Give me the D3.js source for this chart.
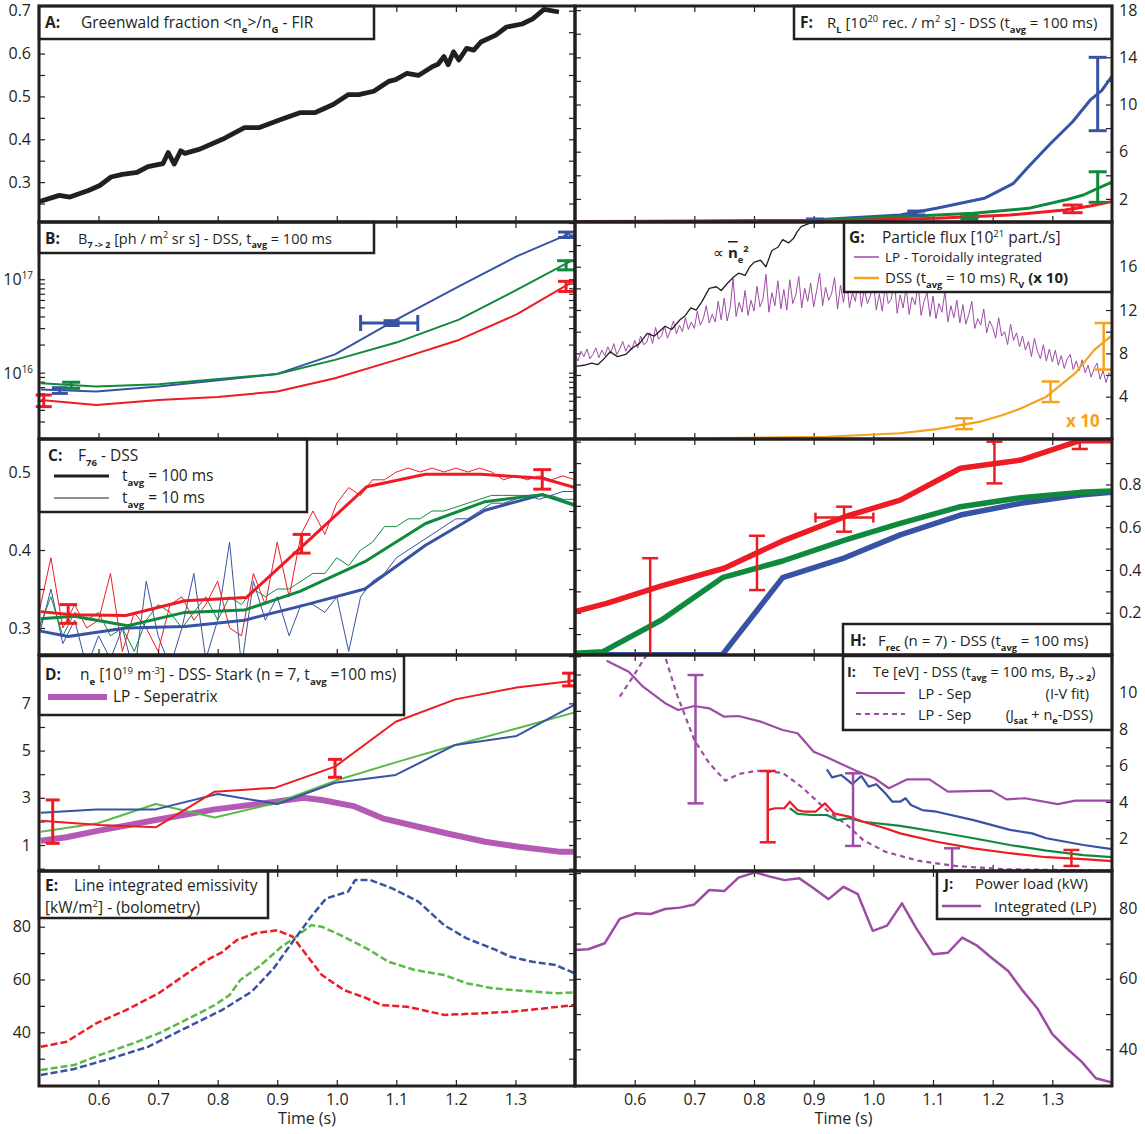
<!DOCTYPE html>
<html>
<head>
<meta charset="utf-8">
<script src="https://cdn.jsdelivr.net/npm/d3@7"></script>
<style>
  body { margin: 0; background: #fff; font-family: "Open Sans", sans-serif; }
  text { fill: #231f20; }
</style>
</head>
<body>
<script>
// ---- data ----
const timeTicks = [0.6, 0.7, 0.8, 0.9, 1.0, 1.1, 1.2, 1.3];

// A: Greenwald fraction
const greenwaldA = [[0.500,0.254],[0.534,0.269],[0.552,0.265],[0.584,0.281],[0.602,0.292],[0.621,0.312],[0.640,0.318],[0.665,0.323],[0.683,0.336],[0.708,0.343],[0.717,0.369],[0.727,0.342],[0.738,0.373],[0.745,0.367],[0.770,0.377],[0.808,0.400],[0.845,0.427],[0.869,0.427],[0.906,0.446],[0.938,0.462],[0.963,0.462],[0.994,0.481],[1.019,0.504],[1.037,0.504],[1.062,0.512],[1.087,0.535],[1.099,0.539],[1.118,0.554],[1.137,0.549],[1.161,0.570],[1.170,0.575],[1.180,0.593],[1.187,0.574],[1.196,0.604],[1.205,0.585],[1.218,0.612],[1.230,0.608],[1.242,0.627],[1.267,0.643],[1.285,0.662],[1.311,0.669],[1.329,0.681],[1.348,0.703],[1.373,0.697]];
const ticksA = [0.25, 0.3, 0.35, 0.4, 0.45, 0.5, 0.55, 0.6, 0.65, 0.7];
const labelsA = [0.3, 0.4, 0.5, 0.6, 0.7];

// B: B7->2 brightness (log)
const blueB = [[0.503,6.6e15],[0.596,6.3e15],[0.701,7.1e15],[0.90,9.7e15],[0.997,1.57e16],[1.10,3.7e16],[1.205,8.4e16],[1.302,1.76e17],[1.392,3.1e17]];
const greenB = [[0.503,7.7e15],[0.596,7.1e15],[0.701,7.5e15],[0.90,9.7e15],[0.997,1.37e16],[1.10,2.1e16],[1.205,3.7e16],[1.302,7.7e16],[1.392,1.55e17]];
const redB = [[0.503,5.1e15],[0.596,4.5e15],[0.701,5.1e15],[0.80,5.5e15],[0.90,6.3e15],[0.997,8.7e15],[1.10,1.37e16],[1.205,2.24e16],[1.302,4.2e16],[1.392,9.1e16]];
const redErrB = [[0.508,4.33e15,5.77e15],[1.385,7.4e16,9.5e16]];
const blueErrB = [[0.535,6.0e15,6.9e15],[1.092,3.2e16,3.6e16],[1.385,2.8e17,3.2e17]];
const greenErrB = [[0.554,6.8e15,7.9e15],[1.385,1.26e17,1.58e17]];
const blueXErrB = [[1.040,1.136,3.4e16]];
const ticksB = [2e15,3e15,4e15,5e15,6e15,7e15,8e15,9e15,1e16,2e16,3e16,4e16,5e16,6e16,7e16,8e16,9e16,1e17,2e17,3e17,4e17];
const decadesB = [16, 17];

// C: F76 ratio
const redC = [[0.503,0.321],[0.555,0.317],[0.646,0.316],[0.745,0.335],[0.848,0.339],[0.941,0.404],[1.05,0.481],[1.149,0.497],[1.242,0.497],[1.345,0.492],[1.40,0.480]];
const greenC = [[0.503,0.312],[0.559,0.315],[0.649,0.303],[0.745,0.320],[0.845,0.323],[0.938,0.347],[1.047,0.385],[1.149,0.434],[1.249,0.462],[1.345,0.471],[1.40,0.457]];
const blueC = [[0.503,0.296],[0.549,0.289],[0.646,0.300],[0.745,0.302],[0.845,0.310],[0.944,0.329],[1.047,0.350],[1.149,0.406],[1.249,0.451],[1.345,0.471],[1.40,0.458]];
const timeC10 = d3.range(50, 141, 2).map(i => i / 100);
const redC10 = [0.32,0.39,0.30,0.33,0.30,0.31,0.37,0.27,0.32,0.30,0.27,0.33,0.34,0.31,0.33,0.36,0.30,0.29,0.37,0.33,0.41,0.34,0.42,0.45,0.42,0.46,0.48,0.47,0.49,0.49,0.50,0.505,0.50,0.505,0.50,0.505,0.50,0.505,0.50,0.49,0.495,0.49,0.495,0.49,0.495,0.49];
const blueC10 = [0.29,0.35,0.28,0.31,0.25,0.29,0.26,0.30,0.24,0.36,0.29,0.25,0.30,0.37,0.26,0.31,0.41,0.25,0.36,0.31,0.34,0.29,0.33,0.33,0.32,0.34,0.27,0.34,0.36,0.37,0.39,0.40,0.41,0.42,0.43,0.44,0.44,0.45,0.46,0.46,0.465,0.47,0.465,0.47,0.475,0.475];
const greenC10 = [0.30,0.34,0.29,0.32,0.31,0.32,0.29,0.30,0.27,0.31,0.33,0.32,0.30,0.32,0.34,0.31,0.34,0.33,0.35,0.34,0.35,0.35,0.36,0.37,0.37,0.39,0.38,0.40,0.41,0.43,0.43,0.44,0.44,0.45,0.45,0.455,0.46,0.465,0.47,0.47,0.47,0.47,0.47,0.47,0.465,0.465];
const redErrC = [[0.549,0.306,0.330],[0.941,0.396,0.420],[1.345,0.478,0.503]];
const ticksC = [0.3, 0.35, 0.4, 0.45, 0.5];
const labelsC = [0.3, 0.4, 0.5];

// D: electron density
const redD = [[0.503,2.03],[0.602,1.85],[0.696,1.75],[0.795,3.26],[0.897,3.43],[0.997,4.32],[1.099,6.22],[1.199,7.17],[1.302,7.67],[1.398,7.96]];
const blueD = [[0.503,2.37],[0.596,2.51],[0.696,2.51],[0.80,3.16],[0.90,2.74],[0.997,3.64],[1.099,3.97],[1.199,5.24],[1.302,5.62],[1.398,6.93]];
const greenD = [[0.503,1.56],[0.599,1.92],[0.696,2.74],[0.795,2.17],[0.897,2.77],[0.997,3.72],[1.099,4.50],[1.199,5.24],[1.302,5.94],[1.398,6.61]];
const sepD = [[0.503,1.18],[0.546,1.33],[0.596,1.59],[0.696,2.06],[0.795,2.51],[0.897,2.83],[0.944,3.0],[0.975,2.91],[1.028,2.65],[1.077,2.13],[1.124,1.85],[1.18,1.52],[1.249,1.14],[1.305,0.93],[1.373,0.72],[1.398,0.72]];
const redErrD = [[0.523,1.07,2.91],[0.997,3.87,4.63],[1.39,7.74,8.28]];
const ticksD = [0, 1, 2, 3, 4, 5, 6, 7, 8, 9];
const labelsD = [1, 3, 5, 7];

// E: bolometry
const redE = [[0.503,34.5],[0.546,36.4],[0.596,43.4],[0.646,48.4],[0.701,54.8],[0.745,61.7],[0.782,67.4],[0.807,70.3],[0.832,74.9],[0.863,77.5],[0.90,78.7],[0.926,76.2],[0.947,69.9],[0.975,61.7],[1.012,56.0],[1.05,52.9],[1.075,50.3],[1.118,49.7],[1.18,46.6],[1.242,47.2],[1.292,47.8],[1.336,48.8],[1.40,50.3]];
const greenE = [[0.503,25.7],[0.559,27.6],[0.602,31.4],[0.658,35.8],[0.701,39.6],[0.752,45.3],[0.795,50.3],[0.82,54.1],[0.838,59.8],[0.869,64.8],[0.907,72.4],[0.932,76.2],[0.957,80.6],[0.975,80.0],[1.006,76.8],[1.05,71.8],[1.087,66.7],[1.131,63.6],[1.18,61.7],[1.218,58.6],[1.261,56.7],[1.317,55.6],[1.367,54.8],[1.40,55.1]];
const blueE = [[0.503,23.8],[0.559,26.1],[0.621,30.1],[0.683,34.5],[0.745,41.5],[0.807,48.4],[0.857,55.4],[0.894,64.2],[0.926,74.3],[0.957,83.8],[0.982,90.7],[1.019,93.3],[1.031,97.7],[1.056,97.7],[1.093,94.5],[1.137,89.5],[1.18,80.6],[1.218,75.6],[1.267,71.2],[1.292,68.6],[1.329,66.7],[1.367,65.5],[1.40,62.3]];
const ticksE = [30, 40, 50, 60, 70, 80, 90, 100];
const labelsE = [40, 60, 80];

// F: recombination rate
const blueF = [[0.5,0.07],[0.7,0.1],[0.891,0.2],[1.045,0.64],[1.106,1.2],[1.186,2.05],[1.235,3.32],[1.26,4.73],[1.297,6.7],[1.334,8.54],[1.364,10.4],[1.383,11.2],[1.404,12.7]];
const greenF = [[0.5,0.08],[0.891,0.15],[1.045,0.49],[1.168,0.78],[1.26,1.2],[1.321,1.9],[1.352,2.33],[1.376,2.9],[1.404,3.5]];
const redF = [[0.5,0.05],[0.891,0.07],[1.106,0.35],[1.229,0.64],[1.321,1.06],[1.364,1.4],[1.404,1.82]];
const blueErrF = [[1.376,7.78,14.0],[1.072,0.64,0.97],[0.902,0.05,0.3]];
const greenErrF = [[1.376,1.71,4.3],[1.161,0.3,0.64]];
const redErrF = [[1.334,0.83,1.48]];
const ticksF = [2, 4, 6, 8, 10, 12, 14, 16, 18];
const labelsF = [2, 6, 10, 14, 18];

// G: particle flux
const neSquaredG = [[0.500,6.8],[0.515,6.9],[0.528,7.1],[0.538,6.95],[0.547,7.4],[0.559,8.15],[0.571,7.7],[0.585,7.9],[0.596,8.5],[0.608,8.9],[0.621,9.85],[0.633,9.6],[0.651,10.5],[0.662,10.2],[0.676,11.1],[0.685,11.5],[0.694,12.2],[0.703,12.0],[0.713,12.8],[0.725,14.0],[0.737,14.15],[0.745,13.8],[0.756,14.5],[0.765,15.0],[0.774,15.4],[0.785,15.2],[0.793,16.0],[0.800,16.4],[0.811,16.6],[0.820,16.0],[0.830,17.5],[0.840,17.8],[0.848,18.5],[0.858,18.2],[0.866,18.6],[0.872,19.2],[0.879,19.7],[0.897,20.1],[0.920,21.0]];
const timeG = d3.range(100, 281).map(i => i / 200);
const lpFluxG = [
  7.9, 7.3, 8.2, 7.7, 8.4, 7.5, 7.9, 8.5, 7.6, 8.3,
  7.8, 8.6, 8.0, 8.9, 7.9, 8.4, 9.1, 8.2, 8.8, 8.3,
  9.2, 8.5, 9.6, 8.8, 9.0, 9.9, 8.9, 10.4, 9.3, 9.6,
  10.5, 9.4, 10.1, 11.0, 9.8, 10.6, 10.0, 11.3, 10.2, 10.9,
  10.3, 11.9, 10.6, 11.2, 12.4, 10.8, 11.6, 10.9, 12.8, 11.1,
  13.1, 11.0, 12.2, 14.9, 11.4, 12.7, 11.8, 13.8, 11.5, 12.9,
  11.9, 14.2, 12.3, 13.0, 15.3, 11.8, 13.6, 12.4, 14.7, 12.1,
  13.9, 12.0, 14.8, 12.6, 13.4, 15.1, 12.2, 14.0, 12.8, 14.5,
  12.3, 13.8, 15.4, 12.4, 14.1, 12.9, 13.5, 15.0, 12.1, 14.3,
  12.7, 14.9, 12.2, 13.6, 12.8, 15.2, 12.3, 14.0, 12.6, 13.3,
  14.6, 12.0, 13.5, 11.9, 14.3, 12.6, 13.0, 14.8, 11.7, 13.4,
  12.2, 14.1, 11.6, 13.2, 12.5, 14.4, 11.5, 12.8, 13.6, 11.4,
  13.3, 11.2, 12.6, 11.8, 13.7, 10.9, 12.4, 11.3, 12.9, 10.8,
  12.5, 10.7, 11.6, 12.8, 10.3, 11.2, 10.6, 12.1, 9.9, 11.0,
  10.4, 9.4, 11.3, 9.6, 10.0, 8.8, 10.7, 9.2, 9.9, 8.6,
  9.6, 8.3, 9.1, 7.7, 9.4, 8.2, 7.5, 8.8, 7.3, 8.4,
  7.2, 8.3, 6.9, 7.8, 6.6, 7.5, 7.9, 6.5, 7.3, 6.4,
  7.4, 6.2, 6.9, 5.8, 6.6, 7.1, 5.6, 6.4, 5.3, 6.2,
  5.9];
const dssG = [[0.5,0.1],[0.7,0.12],[0.922,0.3],[1.045,0.62],[1.106,1.0],[1.18,1.7],[1.217,2.3],[1.247,2.9],[1.29,4.0],[1.339,6.2],[1.37,8.3],[1.404,9.85]];
const dssErrG = [[1.152,1.0,2.0],[1.297,3.5,5.4],[1.386,6.5,10.8]];
const ticksG = [2, 4, 6, 8, 10, 12, 14, 16, 18];
const labelsG = [4, 8, 12, 16];

// H: recombination fraction
const redH = [[0.5,0.205],[0.553,0.244],[0.645,0.326],[0.75,0.408],[0.848,0.536],[0.952,0.649],[1.045,0.727],[1.146,0.876],[1.247,0.914],[1.346,1.005],[1.40,1.005]];
const greenH = [[0.5,0.01],[0.547,0.018],[0.645,0.166],[0.747,0.364],[0.848,0.442],[0.952,0.54],[1.045,0.618],[1.146,0.696],[1.247,0.738],[1.346,0.763],[1.40,0.769]];
const blueH = [[0.5,0.004],[0.747,0.004],[0.848,0.364],[0.952,0.457],[1.045,0.564],[1.146,0.657],[1.247,0.712],[1.346,0.751],[1.40,0.763]];
const redErrH = [[0.626,0.006,0.455],[0.805,0.306,0.56],[0.951,0.579,0.696],[1.203,0.805,1.0],[1.346,0.966,1.01]];
const redXErrH = [[0.903,1.0,0.645]];
const ticksH = [0.1, 0.2, 0.3, 0.4, 0.5, 0.6, 0.7, 0.8, 0.9, 1.0];
const labelsH = [0.2, 0.4, 0.6, 0.8];

// I: electron temperature
const lpSepI = [[0.553,11.76],[0.59,11.15],[0.614,10.33],[0.651,9.42],[0.673,9.05],[0.70,9.27],[0.725,9.14],[0.75,8.68],[0.774,8.72],[0.811,8.41],[0.848,7.95],[0.873,7.77],[0.90,6.76],[0.922,6.45],[0.971,5.71],[1.002,5.3],[1.026,4.75],[1.057,5.24],[1.094,5.24],[1.125,4.56],[1.198,4.62],[1.223,4.14],[1.254,4.2],[1.309,3.88],[1.339,4.07],[1.40,4.07]];
const lpJsatI = [[0.575,9.78],[0.599,10.97],[0.624,12.3],[0.636,12.6],[0.648,12.3],[0.67,9.97],[0.70,7.4],[0.725,6.12],[0.752,5.16],[0.774,5.53],[0.805,5.71],[0.848,5.6],[0.879,4.84],[0.922,3.55],[0.959,2.64],[0.983,1.9],[1.02,1.26],[1.075,0.77],[1.137,0.48],[1.22,0.3],[1.40,0.22]];
const blueI = [[0.922,5.79],[0.931,5.35],[0.946,5.48],[0.965,4.98],[0.98,5.42],[0.992,4.84],[1.005,4.97],[1.02,4.47],[1.032,4.01],[1.045,4.01],[1.054,4.2],[1.063,3.83],[1.082,3.55],[1.106,3.46],[1.168,3.0],[1.229,2.46],[1.266,2.27],[1.29,2.0],[1.352,1.63],[1.40,1.4]];
const greenI = [[0.86,3.65],[0.873,3.34],[0.897,3.28],[0.922,3.28],[0.94,3.0],[0.959,3.1],[0.983,2.91],[1.045,2.68],[1.106,2.36],[1.168,2.0],[1.229,1.63],[1.29,1.32],[1.352,1.08],[1.40,0.96]];
const redI = [[0.823,3.55],[0.835,3.65],[0.851,3.65],[0.86,4.01],[0.873,3.55],[0.885,3.46],[0.903,3.46],[0.919,3.92],[0.934,3.37],[0.959,3.19],[0.983,2.91],[1.02,2.55],[1.045,2.27],[1.106,1.81],[1.168,1.45],[1.229,1.18],[1.29,0.96],[1.352,0.85],[1.40,0.75]];
const purpleErrI = [[0.702,3.92,10.97],[0.966,1.58,5.57],[1.132,0.22,1.45]];
const redErrI = [[0.823,1.78,5.7],[1.332,0.48,1.36]];
const ticksI = [1, 2, 3, 4, 5, 6, 7, 8, 9, 10, 11, 12];
const labelsI = [2, 4, 6, 8, 10];

// J: power load
const powerJ = [[0.5,68.2],[0.522,68.4],[0.55,70.1],[0.575,77.0],[0.602,78.6],[0.627,78.4],[0.651,79.8],[0.676,80.2],[0.70,81.1],[0.725,85.2],[0.75,84.9],[0.774,88.7],[0.802,90.2],[0.827,89.0],[0.851,88.0],[0.876,88.5],[0.90,85.7],[0.925,82.6],[0.95,86.1],[0.974,84.0],[0.999,73.6],[1.023,75.1],[1.048,81.4],[1.072,74.3],[1.10,67.0],[1.125,67.4],[1.149,71.7],[1.174,69.4],[1.198,66.0],[1.226,62.2],[1.251,56.5],[1.275,51.6],[1.30,44.3],[1.324,40.3],[1.349,36.5],[1.373,31.8],[1.40,30.6]];
const ticksJ = [40, 50, 60, 70, 80, 90];
const labelsJ = [40, 60, 80];

// ---- colours ----
const RED = "#ed1c24", GREEN = "#0f8a3d", LGREEN = "#5cb947", BLUE = "#3853a4",
      PURPLE = "#9d4ca5", MAGENTA = "#b45ab5", ORANGE = "#f7a21b", INK = "#231f20";

// ---- layout ----
const colX = [[39, 575], [575, 1112]];
const rowY = [6, 222, 439, 655, 871, 1086];
const FONT = "Open Sans, sans-serif";
const LEG = 15.5;

const svg = d3.select("body").append("svg").attr("width", 1145).attr("height", 1134)
  .attr("font-family", FONT);
const layerTicks = svg.append("g");
const layerPlot = svg.append("g");
const layerErr = svg.append("g");
const layerLeg = svg.append("g");
const layerFrame = svg.append("g");

function panel(col, row, dom, ticks, labels, fmt, log) {
  const [x0, x1] = colX[col];
  const y0 = rowY[row], y1 = rowY[row + 1];
  const x = d3.scaleLinear().domain([0.5, 1.4]).range([x0, x1]);
  const y = (log ? d3.scaleLog() : d3.scaleLinear()).domain(dom).range([y1, y0]);
  const id = "clip" + col + row;
  svg.append("clipPath").attr("id", id).append("rect")
    .attr("x", x0).attr("y", y0).attr("width", x1 - x0).attr("height", y1 - y0);
  const plot = layerPlot.append("g").attr("clip-path", `url(#${id})`);

  const tk = layerTicks.append("g");
  const clean = s => { s.select(".domain").remove(); s.selectAll("line").attr("stroke", INK).attr("stroke-width", 1.2); };
  tk.append("g").attr("transform", `translate(${x0},0)`).call(d3.axisRight(y).tickValues(ticks).tickSize(6).tickFormat("")).call(clean);
  tk.append("g").attr("transform", `translate(${x1},0)`).call(d3.axisLeft(y).tickValues(ticks).tickSize(6).tickFormat("")).call(clean);
  tk.append("g").attr("transform", `translate(0,${y0})`).call(d3.axisBottom(x).tickValues(timeTicks).tickSize(6).tickFormat("")).call(clean);
  tk.append("g").attr("transform", `translate(0,${y1})`).call(d3.axisTop(x).tickValues(timeTicks).tickSize(6).tickFormat("")).call(clean);

  if (labels) {
    const ax = col === 0 ? d3.axisLeft(y).tickPadding(8) : d3.axisRight(y).tickPadding(7);
    tk.append("g").attr("transform", `translate(${col === 0 ? x0 : x1},0)`)
      .call(ax.tickValues(labels).tickSize(0).tickFormat(d3.format(fmt)))
      .call(s => s.select(".domain").remove())
      .attr("font-size", 16).attr("font-family", FONT);
  }
  if (row === 4) {
    tk.append("g").attr("transform", `translate(0,${y1})`)
      .call(d3.axisBottom(x).tickValues(timeTicks).tickSize(0).tickPadding(8).tickFormat(d3.format(".1f")))
      .call(s => s.select(".domain").remove())
      .attr("font-size", 16).attr("font-family", FONT);
    tk.append("text").attr("x", (x0 + x1) / 2).attr("y", y1 + 38)
      .attr("text-anchor", "middle").attr("font-size", 16).text("Time (s)");
  }
  layerFrame.append("rect").attr("x", x0).attr("y", y0).attr("width", x1 - x0).attr("height", y1 - y0)
    .attr("fill", "none").attr("stroke", INK).attr("stroke-width", 3);
  return { x, y, plot };
}

function line(p, data, color, width, dash) {
  p.plot.append("path").datum(data)
    .attr("d", d3.line().x(d => p.x(d[0])).y(d => p.y(d[1])))
    .attr("fill", "none").attr("stroke", color).attr("stroke-width", width)
    .attr("stroke-linejoin", "round").attr("stroke-dasharray", dash || null);
}

function errV(p, rows, color, cap, w) {
  rows.forEach(([t, lo, hi]) => {
    const g = layerErr.append("g").attr("stroke", color).attr("stroke-width", w || 2.5);
    const x = p.x(t);
    g.append("line").attr("x1", x).attr("x2", x).attr("y1", p.y(lo)).attr("y2", p.y(hi));
    [lo, hi].forEach(v => g.append("line").attr("x1", x - cap).attr("x2", x + cap).attr("y1", p.y(v)).attr("y2", p.y(v)));
  });
}

function errH(p, rows, color, cap, w) {
  rows.forEach(([t0, t1, v]) => {
    const g = layerErr.append("g").attr("stroke", color).attr("stroke-width", w || 2.5);
    const y = p.y(v);
    g.append("line").attr("x1", p.x(t0)).attr("x2", p.x(t1)).attr("y1", y).attr("y2", y);
    [t0, t1].forEach(t => g.append("line").attr("x1", p.x(t)).attr("x2", p.x(t)).attr("y1", y - cap).attr("y2", y + cap));
  });
}

function box(x0, y0, x1, y1) {
  layerLeg.append("rect").attr("x", x0).attr("y", y0).attr("width", x1 - x0).attr("height", y1 - y0)
    .attr("fill", "#fff").attr("stroke", INK).attr("stroke-width", 2.5);
}

// rich text: parts are strings or [string, "b"|"sub"|"sup"|"bsup"]
function rich(x, y, parts, size, anchor, parent) {
  size = size || LEG;
  const t = (parent || layerLeg).append("text").attr("x", x).attr("y", y)
    .attr("font-size", size).attr("text-anchor", anchor || "start");
  let off = 0;
  parts.forEach(p => {
    const [s, k] = typeof p === "string" ? [p, ""] : p;
    const ts = t.append("tspan").text(s);
    let want = 0;
    if (k.includes("sub")) { want = size * 0.3; ts.attr("font-size", size * 0.62); }
    if (k.includes("sup")) { want = -size * 0.38; ts.attr("font-size", size * 0.62); }
    if (k.includes("b")) ts.attr("font-weight", "bold");
    if (want !== off) ts.attr("dy", want - off);
    off = want;
  });
  return t;
}

function legLine(x0, x1, y, color, width, dash) {
  layerLeg.append("line").attr("x1", x0).attr("x2", x1).attr("y1", y).attr("y2", y)
    .attr("stroke", color).attr("stroke-width", width).attr("stroke-dasharray", dash || null);
}

// ---- A ----
const pA = panel(0, 0, [0.2069, 0.711], ticksA, labelsA, ".1f");
line(pA, greenwaldA, INK, 4.8);
box(39, 6, 374, 39);
rich(45, 28, [["A:", "b"]]);
rich(81, 28, ["Greenwald fraction <n", ["e", "sub"], ">/n", ["G", "sub"], " - FIR"]);

// ---- B ----
const pB = panel(0, 1, [1.95e15, 4.1e17], ticksB, null, null, true);
line(pB, blueB, BLUE, 2);
line(pB, greenB, GREEN, 2);
line(pB, redB, RED, 2);
errV(pB, redErrB, RED, 8, 3);
errV(pB, blueErrB, BLUE, 8, 3);
errV(pB, greenErrB, GREEN, 9, 3);
errH(pB, blueXErrB, BLUE, 8, 3);
decadesB.forEach(e => {
  rich(33, pB.y(Math.pow(10, e)) + 6, ["10", [String(e), "sup"]], 16, "end", layerTicks);
});
box(39, 222, 374, 253);
rich(45, 244, [["B:", "b"]]);
rich(78, 244, ["B", ["7 -> 2", "sub"], " [ph / m", ["2", "sup"], " sr s] - DSS, t", ["avg", "sub"], " = 100 ms"], 14.5);

// ---- C ----
const pC = panel(0, 2, [0.2654, 0.5423], ticksC, labelsC, ".1f");
line(pC, timeC10.map((t, i) => [t, blueC10[i]]), BLUE, 1);
line(pC, timeC10.map((t, i) => [t, greenC10[i]]), GREEN, 1);
line(pC, timeC10.map((t, i) => [t, redC10[i]]), RED, 1);
line(pC, blueC, BLUE, 3);
line(pC, greenC, GREEN, 3);
line(pC, redC, RED, 3);
errV(pC, redErrC, RED, 9, 3);
box(39, 439, 307, 512);
rich(48, 461, [["C:", "b"]]);
rich(78, 461, ["F", ["76", "sub"], " -  DSS"]);
legLine(54, 109, 476, INK, 3);
rich(122, 481, ["t", ["avg", "sub"], " = 100 ms"]);
legLine(54, 109, 498, INK, 1);
rich(122, 503, ["t", ["avg", "sub"], " = 10 ms"]);

// ---- D ----
const pD = panel(0, 3, [-0.10, 9.05], ticksD, labelsD, "d");
line(pD, sepD, MAGENTA, 6);
line(pD, greenD, LGREEN, 2);
line(pD, blueD, BLUE, 2);
line(pD, redD, RED, 2);
errV(pD, redErrD, RED, 7, 3);
box(39, 656, 404, 715);
rich(45, 680, [["D:", "b"]]);
rich(80, 680, ["n", ["e", "sub"], " [10", ["19", "sup"], " m", ["-3", "sup"], "] - DSS- Stark (n = 7, t", ["avg", "sub"], " =100 ms)"]);
legLine(48, 107, 697, MAGENTA, 6);
rich(113, 702, ["LP - Seperatrix"]);

// ---- E ----
const pE = panel(0, 4, [19.66, 101.1], ticksE, labelsE, "d");
line(pE, redE, RED, 2.5, "7,3");
line(pE, greenE, LGREEN, 2.5, "7,3");
line(pE, blueE, BLUE, 2.5, "7,3");
box(39, 871, 268, 918);
rich(45, 891, [["E:", "b"]]);
rich(74, 891, ["Line integrated emissivity"]);
rich(45, 913, ["[kW/m", ["2", "sup"], "] - (bolometry)"]);

// ---- F ----
const pF = panel(1, 0, [0.042, 18.35], ticksF, labelsF, "d");
line(pF, blueF, BLUE, 3);
line(pF, greenF, GREEN, 3);
line(pF, redF, RED, 3);
errV(pF, blueErrF, BLUE, 9, 3);
errV(pF, greenErrF, GREEN, 9, 3);
errV(pF, redErrF, RED, 10, 3);
box(794, 6, 1112, 39);
rich(800, 28, [["F:", "b"]]);
rich(827, 28, ["R", ["L", "sub"], " [10", ["20", "sup"], " rec. / m", ["2", "sup"], " s] - DSS (t", ["avg", "sub"], " = 100 ms)"], 15);

// ---- G ----
const pG = panel(1, 1, [0.09, 20.13], ticksG, labelsG, "d");
line(pG, timeG.map((t, i) => [t, lpFluxG[i]]), PURPLE, 1);
line(pG, neSquaredG, INK, 1.3);
line(pG, dssG, ORANGE, 2.2);
errV(pG, dssErrG, ORANGE, 9, 2.5);
const prop = rich(713, 258, ["\u221d ", ["n", "b"], ["e", "sub"], ["2", "bsup"]], 15, "start", layerErr);
prop.select("tspan:nth-child(2)").attr("text-decoration", "overline");
rich(1066, 427, [["x 10", "b"]], 17, "start", layerErr).selectAll("tspan").style("fill", ORANGE);
box(844, 222, 1112, 292);
rich(849, 243, [["G:", "b"]]);
rich(882, 243, ["Particle flux  [10", ["21", "sup"], " part./s]"]);
legLine(854, 879, 257, PURPLE, 1.5);
rich(885, 262, ["LP - Toroidally integrated"], 13.5);
legLine(854, 879, 278, ORANGE, 2.5);
rich(885, 283, ["DSS (t", ["avg", "sub"], " = 10 ms) R", ["V", "sub"], " ", ["(x 10)", "b"]], 15);

// ---- H ----
const pH = panel(1, 2, [0.0023, 1.0126], ticksH, labelsH, ".1f");
line(pH, blueH, BLUE, 5.5);
line(pH, greenH, GREEN, 5.5);
line(pH, redH, RED, 5.5);
errV(pH, redErrH, RED, 8, 2.5);
errH(pH, redXErrH, RED, 5, 2.5);
box(843, 624, 1112, 655);
rich(850, 646, [["H:", "b"]]);
rich(878, 646, ["F", ["rec", "sub"], " (n = 7) - DSS (t", ["avg", "sub"], " = 100 ms)"], 15);

// ---- I ----
const pI = panel(1, 3, [0.203, 12.07], ticksI, labelsI, "d");
line(pI, lpSepI, PURPLE, 2.2);
line(pI, lpJsatI, PURPLE, 2.2, "5,4");
line(pI, blueI, BLUE, 2.2);
line(pI, greenI, GREEN, 2.2);
line(pI, redI, RED, 2.2);
errV(pI, purpleErrI, PURPLE, 8, 2.5);
errV(pI, redErrI, RED, 8, 2.5);
box(843, 656, 1112, 730);
rich(847, 677, [["I:", "b"]], 14.5);
rich(873, 677, ["Te [eV] - DSS (t", ["avg", "sub"], " = 100 ms, B", ["7 -> 2", "sub"], ")"], 14.5);
legLine(856, 905, 693, PURPLE, 2.2);
rich(918, 699, ["LP - Sep"], 14.5);
rich(1089, 699, ["(I-V fit)"], 14.5, "end");
legLine(856, 905, 714, PURPLE, 2.2, "5,4");
rich(918, 720, ["LP - Sep"], 14.5);
rich(1093, 720, ["(J", ["sat", "sub"], " + n", ["e", "sub"], "-DSS)"], 14.5, "end");

// ---- J ----
const pJ = panel(1, 4, [29.59, 90.59], ticksJ, labelsJ, "d");
line(pJ, powerJ, PURPLE, 2.5);
box(937, 871, 1112, 919);
rich(944, 889, [["J:", "b"]], 15);
rich(975, 889, ["Power load (kW)"], 15);
legLine(942, 981, 906, PURPLE, 2.5);
rich(994, 912, ["Integrated (LP)"], 15);
</script>
</body>
</html>
